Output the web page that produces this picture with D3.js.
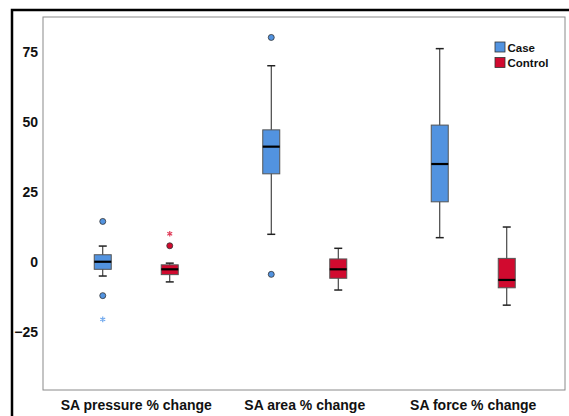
<!DOCTYPE html>
<html>
<head>
<meta charset="utf-8">
<script src="https://cdn.jsdelivr.net/npm/d3@7"></script>
<style>
  body { margin: 0; background: #fff; }
  text { font-family: "Liberation Sans", Arial, sans-serif; font-weight: bold; fill: #111; }
</style>
</head>
<body>
<div id="chart"></div>
<script>
// categories and groups
var categories = ["SA pressure % change", "SA area % change", "SA force % change"];
var groups = ["Case", "Control"];
var yTicks = [-25, 0, 25, 50, 75];

// box statistics per category
var caseWhiskLo  = [-5.0, 9.9, 8.7];
var caseQ1       = [-2.6, 31.5, 21.5];
var caseMedian   = [0.1, 41.2, 35.0];
var caseQ3       = [2.6, 47.2, 48.9];
var caseWhiskHi  = [5.7, 70.1, 76.2];

var ctrlWhiskLo  = [-7.1, -10.0, -15.4];
var ctrlQ1       = [-4.5, -5.8, -9.2];
var ctrlMedian   = [-2.6, -2.6, -6.4];
var ctrlQ3       = [-1.0, 1.1, 1.3];
var ctrlWhiskHi  = [-0.4, 4.9, 12.5];

// outliers (circles) and extremes (stars)
var caseOutliers = [[14.5, -12.0], [80.2, -4.4], []];
var caseExtremes = [[-20.5], [], []];
var ctrlOutliers = [[5.8], [], []];
var ctrlExtremes = [[10.1], [], []];

var colors = { Case: "#5293e0", Control: "#d10a2f" };
var starColors = { Case: "#6fa8ee", Control: "#e0405c" };

var width = 569, height = 416;
var plot = { left: 43, right: 565, top: 17, bottom: 390 };

var svg = d3.select("#chart").append("svg")
    .attr("width", width)
    .attr("height", height);

// outer black frame
svg.append("rect")
    .attr("x", 12).attr("y", 10)
    .attr("width", 600).attr("height", 450)
    .attr("fill", "none")
    .attr("stroke", "#000")
    .attr("stroke-width", 2.5);

// plot frame
svg.append("rect")
    .attr("x", plot.left).attr("y", plot.top)
    .attr("width", plot.right - plot.left)
    .attr("height", plot.bottom - plot.top)
    .attr("fill", "none")
    .attr("stroke", "#8a8a8a")
    .attr("stroke-width", 1);

var y = d3.scaleLinear()
    .domain([-45.7, 87.5])
    .range([plot.bottom, plot.top]);

var x = d3.scaleBand()
    .domain(categories)
    .range([52, 557.5]);

var xSub = d3.scalePoint()
    .domain(groups)
    .range([-33.5, 33.5]);

// y axis
var yAxis = svg.append("g")
    .attr("transform", "translate(" + plot.left + ",0)")
    .call(d3.axisLeft(y).tickValues(yTicks).tickSize(0).tickPadding(5));
yAxis.select(".domain").remove();
yAxis.selectAll("text")
    .style("font-size", "14px")
    .attr("fill", "#111");

// x axis
var xAxis = svg.append("g")
    .attr("transform", "translate(0," + plot.bottom + ")")
    .call(d3.axisBottom(x).tickSize(0).tickPadding(10));
xAxis.select(".domain").remove();
xAxis.selectAll("text")
    .style("font-size", "14px")
    .attr("fill", "#111");

// build box data
var boxes = [];
categories.forEach(function(c, i) {
    boxes.push({ cat: c, group: "Case", lo: caseWhiskLo[i], q1: caseQ1[i], med: caseMedian[i],
        q3: caseQ3[i], hi: caseWhiskHi[i], out: caseOutliers[i], ext: caseExtremes[i] });
    boxes.push({ cat: c, group: "Control", lo: ctrlWhiskLo[i], q1: ctrlQ1[i], med: ctrlMedian[i],
        q3: ctrlQ3[i], hi: ctrlWhiskHi[i], out: ctrlOutliers[i], ext: ctrlExtremes[i] });
});

var boxW = 17, capW = 8;

var g = svg.selectAll(".box")
    .data(boxes)
    .enter()
    .append("g")
    .attr("class", "box")
    .attr("transform", function(d) {
        return "translate(" + (x(d.cat) + x.bandwidth() / 2 + xSub(d.group)) + ",0)";
    });

// whisker stems
g.append("line")
    .attr("x1", 0).attr("x2", 0)
    .attr("y1", function(d) { return y(d.hi); })
    .attr("y2", function(d) { return y(d.lo); })
    .attr("stroke", "#222").attr("stroke-width", 1);

// caps
g.selectAll(".cap")
    .data(function(d) { return [d.hi, d.lo]; })
    .enter()
    .append("line")
    .attr("x1", -capW / 2).attr("x2", capW / 2)
    .attr("y1", function(v) { return y(v); })
    .attr("y2", function(v) { return y(v); })
    .attr("stroke", "#222").attr("stroke-width", 1.5);

// boxes
g.append("rect")
    .attr("x", -boxW / 2)
    .attr("width", boxW)
    .attr("y", function(d) { return y(d.q3); })
    .attr("height", function(d) { return y(d.q1) - y(d.q3); })
    .attr("fill", function(d) { return colors[d.group]; })
    .attr("stroke", "#555")
    .attr("stroke-width", 1);

// medians
g.append("line")
    .attr("x1", -boxW / 2).attr("x2", boxW / 2)
    .attr("y1", function(d) { return y(d.med); })
    .attr("y2", function(d) { return y(d.med); })
    .attr("stroke", "#000").attr("stroke-width", 2.2);

// outlier circles
g.selectAll(".out")
    .data(function(d) { return d.out.map(function(v) { return { v: v, group: d.group }; }); })
    .enter()
    .append("circle")
    .attr("cx", 0)
    .attr("cy", function(o) { return y(o.v); })
    .attr("r", 3)
    .attr("fill", function(o) { return colors[o.group]; })
    .attr("stroke", "#333")
    .attr("stroke-width", 0.8);

// extreme stars
g.selectAll(".ext")
    .data(function(d) { return d.ext.map(function(v) { return { v: v, group: d.group }; }); })
    .enter()
    .append("path")
    .attr("d", d3.symbol(d3.symbolAsterisk).size(22))
    .attr("transform", function(o) { return "translate(0," + y(o.v) + ")"; })
    .attr("fill", "none")
    .attr("stroke", function(o) { return starColors[o.group]; })
    .attr("stroke-width", 1.2);

// legend
var legend = svg.append("g")
    .attr("transform", "translate(495,42)");
var li = legend.selectAll(".item")
    .data(groups)
    .enter()
    .append("g")
    .attr("transform", function(d, i) { return "translate(0," + (i * 15.5) + ")"; });
li.append("rect")
    .attr("width", 10).attr("height", 10)
    .attr("fill", function(d) { return colors[d]; })
    .attr("stroke", "#333")
    .attr("stroke-width", 0.8);
li.append("text")
    .attr("x", 12.5).attr("y", 9.5)
    .style("font-size", "11.5px")
    .text(function(d) { return d; });
</script>
</body>
</html>
